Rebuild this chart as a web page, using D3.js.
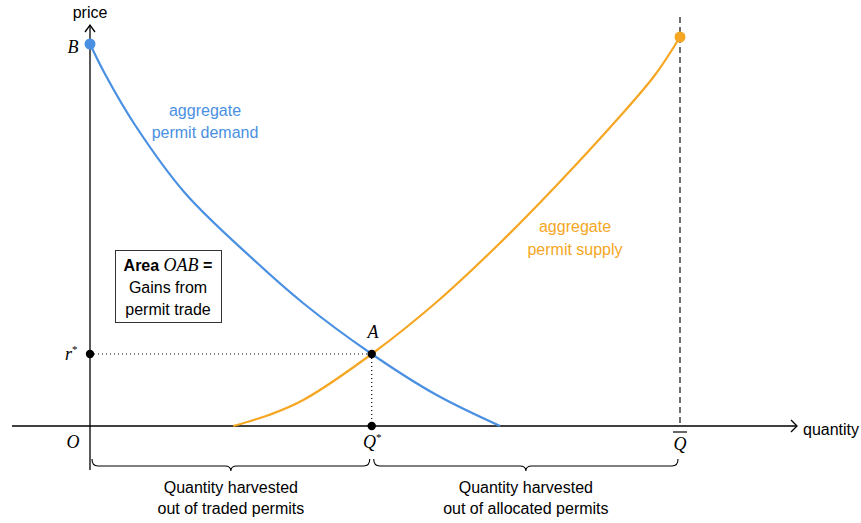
<!DOCTYPE html>
<html><head><meta charset="utf-8">
<script src="https://cdn.jsdelivr.net/npm/d3@7"></script>
<style>
html,body{margin:0;padding:0;background:#fff;}
svg{display:block;}
.sans{font-family:"Liberation Sans",Arial,Helvetica,sans-serif;}
.math{font-family:"Liberation Serif","Times New Roman",serif;font-style:italic;}
</style></head>
<body>
<svg id="c" width="861" height="523"></svg>
<script>
// ---- data (quantity, price) in chart units ----
const demandQ = [0, 0.254, 0.763, 1.61, 2.74, 3.61, 4.775, 5.876, 6.95];
const demandP = [10, 9.215, 7.88, 6.10, 4.40, 3.22, 1.885, 0.81, 0];
const supplyQ = [2.429, 3.032, 3.615, 4.775, 5.876, 6.949, 7.881, 8.927, 9.576, 10];
const supplyP = [0, 0.288, 0.681, 1.885, 3.246, 4.791, 6.257, 8.010, 9.188, 10.183];
const equilibrium = {q: 4.775, p: 1.885};
const qBar = 10;
const priceB = 10;
const demandLabel = ["aggregate", "permit demand"];
const supplyLabel = ["aggregate", "permit supply"];
const boxLines = ["Gains from", "permit trade"];
const braceLabels = [["Quantity harvested", "out of traded permits"], ["Quantity harvested", "out of allocated permits"]];

const blue = "#4a90e2", orange = "#f5a623";
const svg = d3.select("#c");
const x = d3.scaleLinear().domain([0, 10]).range([90, 680]);
const y = d3.scaleLinear().domain([0, 10]).range([426, 44]);

// axes
svg.append("line").attr("x1", 12).attr("y1", y(0)).attr("x2", 797).attr("y2", y(0)).attr("stroke", "#000").attr("stroke-width", 1.3);
svg.append("path").attr("d", `M791,${y(0)-6}L797,${y(0)}L791,${y(0)+6}`).attr("fill", "none").attr("stroke", "#000").attr("stroke-width", 1.3);
svg.append("line").attr("x1", x(0)).attr("y1", 470).attr("x2", x(0)).attr("y2", 25).attr("stroke", "#000").attr("stroke-width", 1.3);
svg.append("path").attr("d", `M${x(0)-5},32L${x(0)},25L${x(0)+5},32`).attr("fill", "none").attr("stroke", "#000").attr("stroke-width", 1.3);
svg.append("text").attr("class", "sans").attr("x", x(0)).attr("y", 18).attr("text-anchor", "middle").attr("font-size", 16).text("price");
svg.append("text").attr("class", "sans").attr("x", 803).attr("y", 435).attr("font-size", 16).text("quantity");

// Qbar dashed
svg.append("line").attr("x1", x(qBar)).attr("y1", 17).attr("x2", x(qBar)).attr("y2", y(0))
  .attr("stroke", "#222").attr("stroke-width", 1.3).attr("stroke-dasharray", "6,4");

// dotted guides
svg.append("line").attr("x1", x(0)).attr("y1", y(equilibrium.p)).attr("x2", x(equilibrium.q)).attr("y2", y(equilibrium.p))
  .attr("stroke", "#000").attr("stroke-width", 1.2).attr("stroke-dasharray", "1,3");
svg.append("line").attr("x1", x(equilibrium.q)).attr("y1", y(equilibrium.p)).attr("x2", x(equilibrium.q)).attr("y2", y(0))
  .attr("stroke", "#000").attr("stroke-width", 1.2).attr("stroke-dasharray", "1,3");

// curves
const line = d3.line().x(d => x(d[0])).y(d => y(d[1])).curve(d3.curveCatmullRom.alpha(0.5));
const demand = demandQ.map((q, i) => [q, demandP[i]]);
const supply = supplyQ.map((q, i) => [q, supplyP[i]]);
svg.append("path").attr("d", line(demand)).attr("fill", "none").attr("stroke", blue).attr("stroke-width", 2.2);
svg.append("path").attr("d", line(supply)).attr("fill", "none").attr("stroke", orange).attr("stroke-width", 2.2);

// dots
svg.append("circle").attr("cx", x(0)).attr("cy", y(priceB)).attr("r", 5.5).attr("fill", blue);
svg.append("circle").attr("cx", x(supplyQ[supplyQ.length-1])).attr("cy", y(supplyP[supplyP.length-1])).attr("r", 5.5).attr("fill", orange);
[[0, equilibrium.p], [equilibrium.q, equilibrium.p], [equilibrium.q, 0]].forEach(d =>
  svg.append("circle").attr("cx", x(d[0])).attr("cy", y(d[1])).attr("r", 4.2).attr("fill", "#000"));

// curve labels
demandLabel.forEach((t, i) => svg.append("text").attr("class", "sans").attr("x", 205).attr("y", 116 + i*22)
  .attr("text-anchor", "middle").attr("font-size", 16).attr("fill", blue).text(t));
supplyLabel.forEach((t, i) => svg.append("text").attr("class", "sans").attr("x", 575).attr("y", 232 + i*23)
  .attr("text-anchor", "middle").attr("font-size", 16).attr("fill", orange).text(t));

// math labels
svg.append("text").attr("class", "math").attr("x", 73).attr("y", 53).attr("text-anchor", "middle").attr("font-size", 18).text("B");
svg.append("text").attr("class", "math").attr("x", 373).attr("y", 338).attr("text-anchor", "middle").attr("font-size", 18).text("A");
svg.append("text").attr("class", "math").attr("x", 73).attr("y", 448).attr("text-anchor", "middle").attr("font-size", 18).text("O");
const rs = svg.append("text").attr("class", "math").attr("x", 65).attr("y", 360).attr("font-size", 18);
rs.append("tspan").text("r");
rs.append("tspan").attr("font-size", 11).attr("font-style", "normal").attr("dy", -7).text("*");
const qs = svg.append("text").attr("class", "math").attr("x", 363).attr("y", 448).attr("font-size", 18);
qs.append("tspan").text("Q");
qs.append("tspan").attr("font-size", 11).attr("font-style", "normal").attr("dy", -7).text("*");
svg.append("text").attr("class", "math").attr("x", x(qBar)).attr("y", 450).attr("text-anchor", "middle").attr("font-size", 18).text("Q");
svg.append("line").attr("x1", x(qBar)-7).attr("y1", 432).attr("x2", x(qBar)+7).attr("y2", 432).attr("stroke", "#000").attr("stroke-width", 1.2);

// box
svg.append("rect").attr("x", 115.5).attr("y", 250.5).attr("width", 106).attr("height", 72)
  .attr("fill", "#fff").attr("stroke", "#333").attr("stroke-width", 1);
const t1 = svg.append("text").attr("x", 168).attr("y", 271).attr("text-anchor", "middle");
t1.append("tspan").attr("class", "sans").attr("font-weight", "bold").attr("font-size", 16).text("Area ");
t1.append("tspan").attr("class", "math").attr("font-size", 18).text("OAB");
t1.append("tspan").attr("class", "sans").attr("font-weight", "bold").attr("font-size", 16).text(" =");
boxLines.forEach((t, i) => svg.append("text").attr("class", "sans").attr("x", 168).attr("y", 293 + i*22)
  .attr("text-anchor", "middle").attr("font-size", 16).text(t));

// braces
function brace(x1, x2, yTop) {
  const m = (x1 + x2) / 2, h = 7, tip = 5;
  return `M${x1},${yTop} Q${x1},${yTop+h} ${x1+6},${yTop+h} L${m-6},${yTop+h} Q${m},${yTop+h} ${m},${yTop+h+tip}` +
         ` Q${m},${yTop+h} ${m+6},${yTop+h} L${x2-6},${yTop+h} Q${x2},${yTop+h} ${x2},${yTop}`;
}
const braceRanges = [[0, equilibrium.q], [equilibrium.q, qBar]];
braceRanges.forEach((r, i) => {
  const x1 = x(r[0]) + 2, x2 = x(r[1]) - 2;
  svg.append("path").attr("d", brace(x1, x2, 459)).attr("fill", "none").attr("stroke", "#000").attr("stroke-width", 1.1);
  braceLabels[i].forEach((t, j) => svg.append("text").attr("class", "sans").attr("x", (x1 + x2) / 2).attr("y", 493 + j*21)
    .attr("text-anchor", "middle").attr("font-size", 16).text(t));
});
</script>
</body></html>
